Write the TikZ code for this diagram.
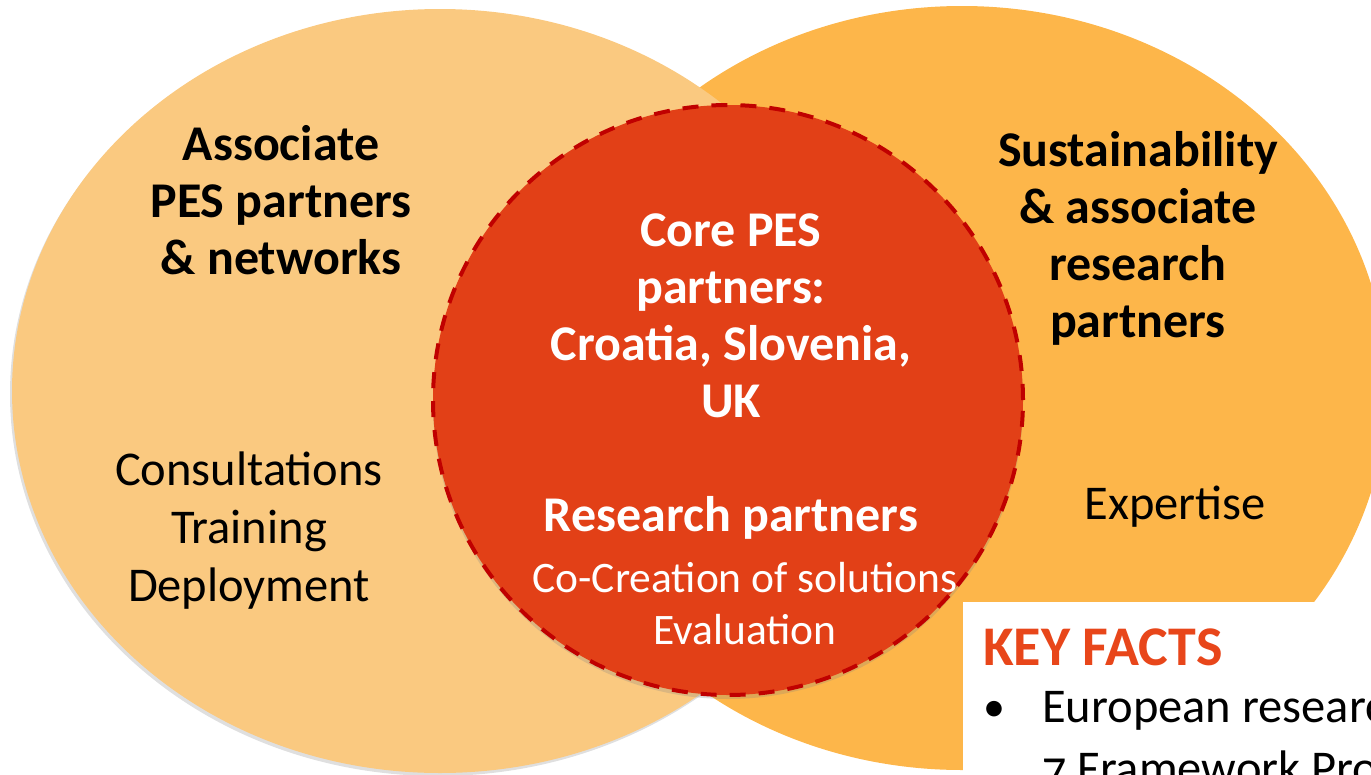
\documentclass[tikz,border=0pt]{standalone}
\usepackage{fontspec}
\setmainfont{Carlito}
\usetikzlibrary{shadows}
\definecolor{lightor}{RGB}{250,201,128}
\definecolor{darkor}{RGB}{253,182,74}
\definecolor{corered}{RGB}{226,64,23}
\definecolor{dashred}{RGB}{192,0,0}
\definecolor{keyred}{RGB}{232,70,26}
\tikzset{
  bigbold/.style={font=\fontsize{50}{57}\selectfont\bfseries, align=center, inner sep=0pt},
  bigreg/.style={font=\fontsize{48.5}{58}\selectfont, align=center, inner sep=0pt},
  smallreg/.style={font=\fontsize{43.5}{52}\selectfont, align=center, inner sep=0pt},
  softshadow/.style={drop shadow={opacity=0.25, shadow xshift=-2pt, shadow yshift=-3pt}},
}
\begin{document}
\begin{tikzpicture}[x=1pt,y=-1pt]
\useasboundingbox (0,0) rectangle (1371,774);
\clip (0,0) rectangle (1371,774);
% right ellipse
\fill[darkor] (962,388) ellipse [x radius=425pt, y radius=382pt];
% left ellipse
\fill[lightor, softshadow] (440,391) ellipse [x radius=428pt, y radius=382pt];
% core circle
\draw[dashred, fill=corered, line width=4pt, dash pattern=on 16pt off 13pt,
      drop shadow={opacity=0.25, shadow xshift=0pt, shadow yshift=-4pt}]
  (728,400) circle [radius=295pt];
% texts
\node[bigbold] (assoc) at (281,200) {Associate\\PES partners\\\& networks};
\node[bigreg] (consult) at (249,531) {Consultations\\Training\\Deployment};
\node[bigbold, text=white] (core) at (731,316) {Core PES\\partners:\\Croatia, Slovenia,\\UK};
\node[bigbold, text=white] (research) at (731,518) {Research partners};
\node[smallreg, text=white] (cocreation) at (745,604) {Co-Creation of solutions\\Evaluation};
\node[bigbold] (sustain) at (1138,238) {Sustainability\\\& associate\\research\\partners};
\node[bigreg] (expert) at (1175,507) {Expertise};
% key facts box
\node[fill=white, anchor=north west, minimum width=420pt, minimum height=180pt, inner sep=0pt] (box) at (963,602) {};
\node[font=\fontsize{56}{64}\selectfont\bfseries, text=keyred, anchor=west, inner sep=0pt] (keyfacts) at (983,647) {KEY FACTS};
\node[font=\fontsize{44}{58}\selectfont, anchor=base west, inner sep=0pt] (bullet) at (983,721) {•};
\node[font=\fontsize{48.5}{58}\selectfont, anchor=base west, inner sep=0pt] (fact1) at (1042,722) {European research};
\node[font=\fontsize{48.5}{58}\selectfont\addfontfeature{Numbers=OldStyle}, anchor=base west, inner sep=0pt] (fact2) at (1042,784) {7 Framework Programme};
\end{tikzpicture}
\end{document}
